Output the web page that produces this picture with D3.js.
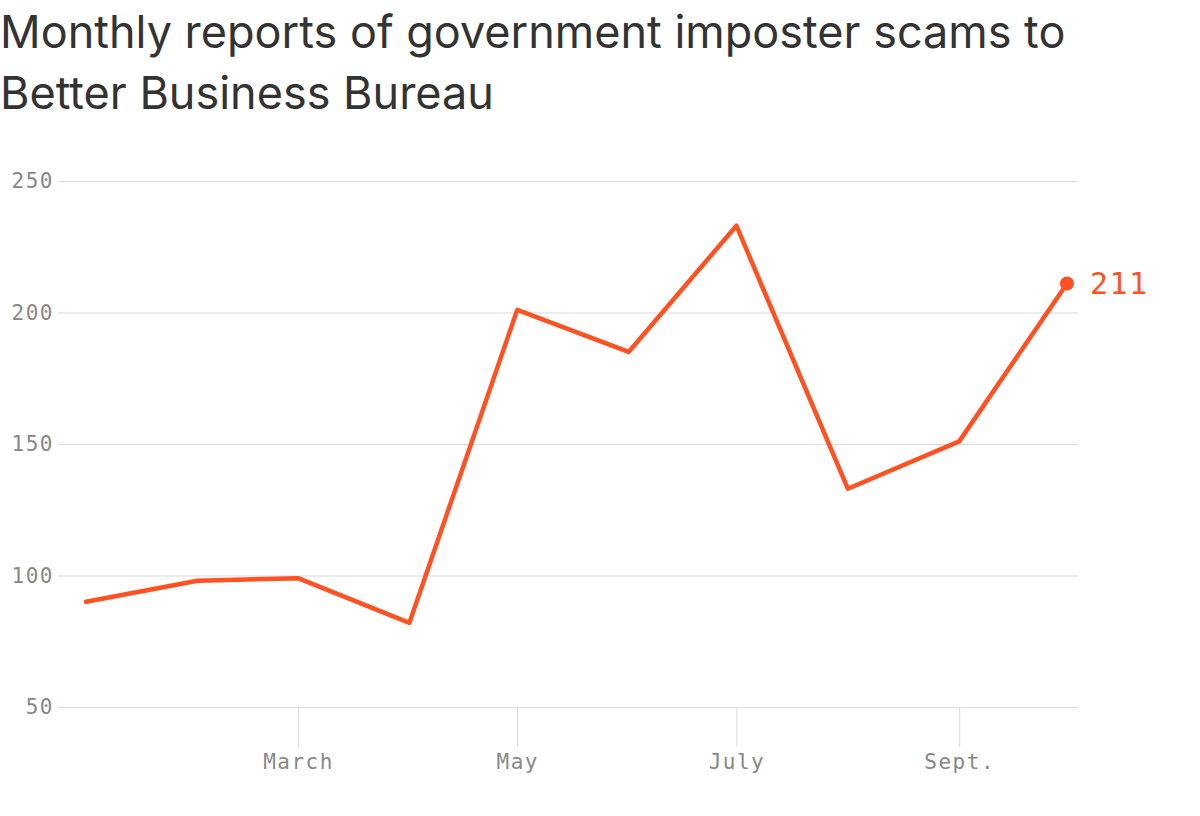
<!DOCTYPE html>
<html>
<head>
<meta charset="utf-8">
<script src="https://cdn.jsdelivr.net/npm/d3@7"></script>
<style>
  body { margin: 0; background: #fff; }
  svg { display: block; }
</style>
</head>
<body>
<svg id="chart" width="1200" height="816"></svg>
<script>
// data
const months = ["2019-01-01", "2019-02-01", "2019-03-01", "2019-04-01", "2019-05-01",
                "2019-06-01", "2019-07-01", "2019-08-01", "2019-09-01", "2019-10-01"];
const reports = [90, 98, 99, 82, 201, 185, 233, 133, 151, 211];
const yTicks = [50, 100, 150, 200, 250];
const xTickMonths = ["2019-03-01", "2019-05-01", "2019-07-01", "2019-09-01"];
const xTickLabels = ["March", "May", "July", "Sept."];
const titleLines = ["Monthly reports of government imposter scams to", "Better Business Bureau"];

const parse = d3.utcParse("%Y-%m-%d");
const data = months.map((m, i) => ({ date: parse(m), value: reports[i] }));

const svg = d3.select("#chart");
const orange = "#ff5122";
const mono = "'DejaVu Sans Mono', 'Liberation Mono', monospace";

// title
svg.append("g").selectAll("text")
    .data(titleLines)
    .enter()
    .append("text")
    .attr("x", 0)
    .attr("y", (d, i) => 48 + i * 61)
    .attr("fill", "#333")
    .style("font-family", "Inter, 'Noto Sans', sans-serif")
    .style("font-size", "45px")
    .text(d => d);

// scales
const x = d3.scaleUtc()
    .domain([parse("2019-01-01"), parse("2019-10-01")])
    .range([86, 1067]);

const y = d3.scaleLinear()
    .domain([50, 250])
    .range([707, 181]);

const gridLeft = 58, gridRight = 1078;

// y grid + labels
const yAxis = svg.append("g")
    .attr("transform", `translate(${gridRight},0)`)
    .call(d3.axisLeft(y).tickValues(yTicks).tickSize(gridRight - gridLeft).tickPadding(4));
yAxis.select(".domain").remove();
yAxis.selectAll(".tick line").attr("stroke", "#d9d9d9").attr("stroke-width", 1);
yAxis.selectAll(".tick text")
    .attr("fill", "#888")
    .style("font-family", mono)
    .style("font-size", "21px")
    .style("letter-spacing", "1.5px");

// x ticks
const xAxis = svg.append("g")
    .attr("transform", `translate(0,${y(50)})`)
    .call(d3.axisBottom(x)
        .tickValues(xTickMonths.map(parse))
        .tickSize(40)
        .tickPadding(7)
        .tickFormat((d, i) => xTickLabels[i]));
xAxis.select(".domain").remove();
xAxis.selectAll(".tick line").attr("stroke", "#d9d9d9").attr("stroke-width", 1);
xAxis.selectAll(".tick text")
    .attr("fill", "#888")
    .style("font-family", mono)
    .style("font-size", "21px")
    .style("letter-spacing", "1.5px");

// line
const line = d3.line()
    .x(d => x(d.date))
    .y(d => y(d.value));

svg.append("path")
    .datum(data)
    .attr("fill", "none")
    .attr("stroke", orange)
    .attr("stroke-width", 4.5)
    .attr("stroke-linejoin", "round")
    .attr("stroke-linecap", "round")
    .attr("d", line);

// last point + label
const last = data[data.length - 1];
svg.append("circle")
    .attr("cx", x(last.date))
    .attr("cy", y(last.value))
    .attr("r", 7)
    .attr("fill", orange);

svg.append("text")
    .attr("x", x(last.date) + 23)
    .attr("y", y(last.value))
    .attr("dy", "0.36em")
    .attr("fill", orange)
    .style("font-family", mono)
    .style("font-size", "30px")
    .style("letter-spacing", "1.5px")
    .text(last.value);
</script>
</body>
</html>
